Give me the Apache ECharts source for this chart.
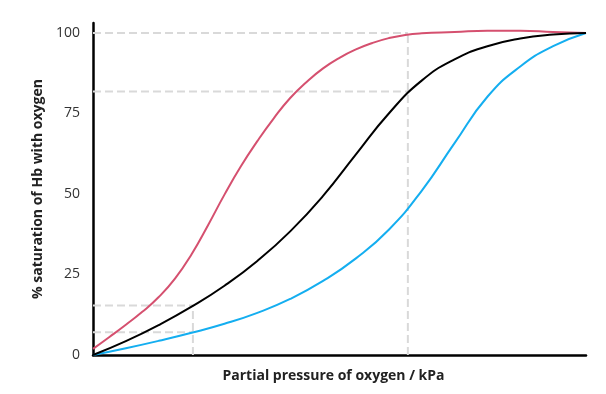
<!DOCTYPE html>
<html>
<head>
<meta charset="utf-8">
<script src="https://cdn.jsdelivr.net/npm/echarts@6/dist/echarts.min.js"></script>
<style>
html,body{margin:0;padding:0;background:#fff;}
#chart{width:606px;height:394px;}
</style>
</head>
<body>
<div id="chart"></div>
<script>
// Partial pressure of oxygen (kPa) and % saturation for the three curves
const redX   = [0, 0.5, 1, 1.5, 2, 2.5, 3, 3.5, 4, 4.5, 5, 5.5, 6, 6.5, 7, 7.5, 8, 8.5, 9, 9.5, 10, 11, 12, 13, 14, 15];
const redY   = [1.9, 5.6, 9.4, 13.4, 18.0, 23.8, 31.3, 40.3, 49.8, 58.6, 66.4, 73.5, 79.8, 84.8, 89.0, 92.3, 94.9, 96.9, 98.4, 99.4, 99.9, 100.3, 100.7, 100.7, 100.3, 100];
const blackX = [0, 1, 2, 3, 4, 5, 6, 7, 8, 9, 10, 11, 12, 13, 14, 15];
const blackY = [0, 4.3, 9.3, 15.0, 21.5, 29.2, 38.4, 49.4, 62.3, 75.0, 85.2, 91.8, 95.9, 98.3, 99.5, 100];
const blueX  = [0, 1, 2, 3, 4, 5, 6, 7, 8, 9, 10, 11, 12, 13, 14, 15];
const blueY  = [0, 2.1, 4.4, 6.9, 9.7, 13.1, 17.4, 23.0, 30.0, 38.9, 51.0, 65.8, 80.2, 89.6, 95.9, 100];
// Reference (dashed) guide values
const guideXLow = 3.04, guideXHigh = 9.58;
const guideYHigh = [100, 81.8];
const guideYLow = [15.4, 7.1];
const yTicks = [0, 25, 50, 75, 100];

const zip = (xs, ys) => xs.map((x, i) => [x, ys[i]]);
const dashStyle = {color: '#d9d9d9', width: 2, type: [8, 4]};
const guide = (data) => ({type: 'line', data, showSymbol: false, symbol: 'none', lineStyle: dashStyle, z: 1, silent: true, animation: false});

const series = [];
guideYHigh.forEach(v => series.push(guide([[0, v], [guideXHigh, v]])));
guideYLow.forEach(v => series.push(guide([[0, v], [guideXLow, v]])));
series.push(guide([[guideXLow, 0], [guideXLow, guideYLow[0]]]));
series.push(guide([[guideXHigh, 0], [guideXHigh, guideYHigh[0]]]));

const curve = (xs, ys, color) => ({type: 'line', data: zip(xs, ys), smooth: 0.5, showSymbol: false, symbol: 'none', lineStyle: {color, width: 2}, z: 3, animation: false});
series.push(curve(redX, redY, '#d5506f'));
series.push(curve(blueX, blueY, '#14aef0'));
series.push(curve(blackX, blackY, '#000000'));

const chart = echarts.init(document.getElementById('chart'), null, {renderer: 'canvas'});
chart.setOption({
  backgroundColor: '#fff',
  animation: false,
  grid: {left: 93, right: 20, top: 23, bottom: 39, containLabel: false},
  xAxis: {
    type: 'value', min: 0, max: 15,
    name: 'Partial pressure of oxygen / kPa',
    nameLocation: 'middle', nameGap: 14,
    nameTextStyle: {fontFamily: 'Open Sans', fontWeight: 'bold', fontSize: 14, color: '#222', padding: [0, 12, 0, 0]},
    axisLine: {lineStyle: {color: '#000', width: 2.5}},
    axisTick: {show: false}, axisLabel: {show: false}, splitLine: {show: false}
  },
  yAxis: {
    type: 'value', min: 0, max: 103.1, interval: 25,
    name: '% saturation of Hb with oxygen',
    nameLocation: 'middle', nameGap: 48, nameRotate: 90,
    nameTextStyle: {fontFamily: 'Open Sans', fontWeight: 'bold', fontSize: 14, color: '#222'},
    axisLine: {show: true, lineStyle: {color: '#000', width: 2.5}},
    axisTick: {show: false}, splitLine: {show: false},
    axisLabel: {
      showMaxLabel: false, margin: 13,
      fontFamily: 'Open Sans', fontSize: 14, color: '#333',
      padding: [0, 0, 5, 0],
      formatter: v => yTicks.includes(v) ? String(v) : ''
    }
  },
  series
});
</script>
</body>
</html>
